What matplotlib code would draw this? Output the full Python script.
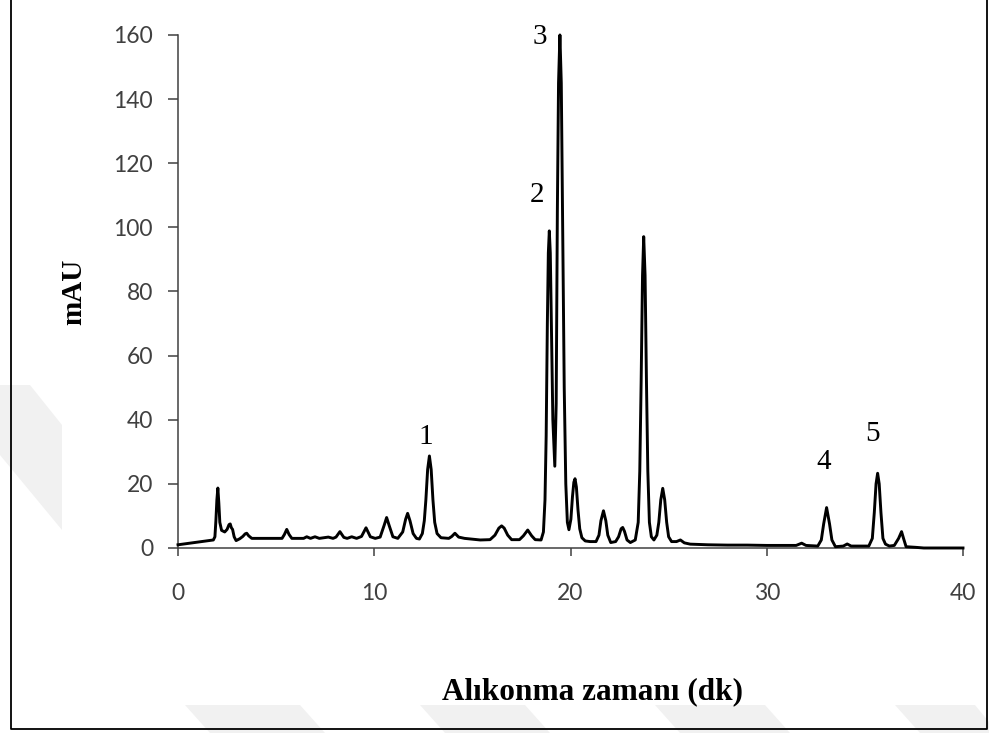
import matplotlib.pyplot as plt
from matplotlib.lines import Line2D
from matplotlib.patches import Polygon

# chromatogram trace (retention time in min, signal in mAU)
time_min = [
    0.00, 1.80, 1.88, 1.93, 1.98, 2.03, 2.08, 2.13, 2.22, 2.38, 2.50, 2.60, 2.66,
    2.72, 2.78, 2.86, 2.96, 3.15, 3.30, 3.42, 3.50, 3.60, 3.76, 5.30, 5.42, 5.54,
    5.66, 5.80, 6.40, 6.56, 6.75, 6.98, 7.20, 7.66, 7.90, 8.05, 8.25, 8.45, 8.62,
    8.85, 9.10, 9.35, 9.58, 9.80, 10.05, 10.30, 10.50, 10.63, 10.76, 10.95, 11.20,
    11.45, 11.60, 11.70, 11.82, 11.98, 12.15, 12.30, 12.45, 12.55, 12.63, 12.72,
    12.81, 12.90, 12.99, 13.08, 13.20, 13.40, 13.80, 13.95, 14.11, 14.30, 14.60,
    15.40, 15.90, 16.15, 16.35, 16.49, 16.62, 16.80, 17.00, 17.40, 17.60, 17.82,
    18.02, 18.20, 18.50, 18.62, 18.70, 18.76, 18.82, 18.87, 18.92, 18.97, 19.02,
    19.10, 19.20, 19.27, 19.33, 19.39, 19.46, 19.53, 19.60, 19.68, 19.76, 19.84,
    19.92, 20.02, 20.10, 20.17, 20.23, 20.30, 20.38, 20.47, 20.58, 20.75, 21.00,
    21.30, 21.45, 21.55, 21.68, 21.80, 21.90, 22.05, 22.30, 22.45, 22.58, 22.66,
    22.75, 22.88, 23.05, 23.30, 23.45, 23.53, 23.60, 23.67, 23.73, 23.80, 23.87,
    23.94, 24.02, 24.12, 24.25, 24.40, 24.50, 24.60, 24.70, 24.80, 24.90, 25.00,
    25.15, 25.40, 25.60, 25.80, 26.10, 27.00, 28.00, 29.00, 30.00, 31.50, 31.78,
    32.00, 32.60, 32.78, 32.90, 33.05, 33.20, 33.32, 33.50, 33.90, 34.10, 34.30,
    35.20, 35.38, 35.48, 35.57, 35.65, 35.73, 35.82, 35.92, 36.05, 36.25, 36.50,
    36.72, 36.87, 36.97, 37.10, 37.60, 38.00, 40.00,
]
signal_mau = [
    1.0, 2.5, 3.5, 8.5, 15.0, 18.7, 14.0, 8.0, 5.5, 5.0, 5.8, 7.3, 7.5,
    6.3, 5.8, 3.5, 2.3, 2.9, 3.6, 4.4, 4.6, 3.8, 3.0, 3.0, 4.2, 5.8,
    4.2, 3.0, 3.0, 3.5, 3.0, 3.5, 3.0, 3.4, 3.0, 3.4, 5.1, 3.3, 3.0,
    3.5, 3.0, 3.6, 6.3, 3.5, 3.0, 3.4, 7.0, 9.5, 7.0, 3.5, 3.0,
    5.0, 9.0, 10.8, 8.5, 4.5, 3.0, 2.8, 4.5, 8.5, 15.0, 24.5,
    28.7, 24.5, 15.0, 8.0, 4.5, 3.2, 3.0, 3.6, 4.6, 3.4, 3.0,
    2.5, 2.6, 4.0, 6.2, 6.9, 6.2, 4.0, 2.6, 2.6, 3.8, 5.6,
    3.8, 2.6, 2.5, 5.0, 15.0, 35.0, 70.0, 92.0, 98.9, 92.0, 72.0,
    40.0, 25.5, 45.0, 105.0, 145.0, 160.0, 145.0, 100.0, 50.0, 20.0, 8.0,
    5.7, 9.0, 16.0, 20.5, 21.6, 19.0, 12.0, 6.0, 3.2, 2.2, 2.0,
    2.0, 4.0, 8.5, 11.6, 8.5, 4.0, 1.7, 2.0, 3.5, 6.0, 6.4,
    5.2, 2.5, 1.7, 2.5, 8.0, 24.0, 52.0, 85.0, 97.1, 85.0, 52.0,
    24.0, 8.0, 3.5, 2.5, 4.0, 8.0, 15.0, 18.6, 15.0, 8.0, 3.5,
    2.0, 2.0, 2.5, 1.6, 1.2, 1.0, 0.9, 0.9, 0.8, 0.8, 1.5,
    0.8, 0.6, 2.5, 7.5, 12.6, 7.5, 2.5, 0.4, 0.6, 1.25, 0.6,
    0.6, 3.0, 11.0, 20.0, 23.3, 20.0, 11.0, 3.0, 1.2, 0.6, 0.8,
    3.0, 5.1, 3.0, 0.4, 0.2, 0.0, 0.0,
]

peak_ids = ['1', '2', '3', '4', '5']
peak_label_x = [12.64, 18.27, 18.45, 32.88, 35.40]
peak_label_y = [34.6, 110.0, 159.4, 26.9, 35.6]

x_ticks = [0, 10, 20, 30, 40]
y_ticks = [0, 20, 40, 60, 80, 100, 120, 140, 160]

axis_grey = '#404040'
W, H = 989, 733


def fig_xy(px, py):
    # pixel position (origin top-left) -> figure fraction
    return (px / W, 1 - py / H)


fig = plt.figure(figsize=(W / 100, H / 100), dpi=100)

# faint watermark stripes showing in the page margins
stripes = [
    [(0, 385), (30, 385), (62, 425), (62, 530), (0, 455)],
    [(185, 705), (300, 705), (325, 733), (210, 733)],
    [(420, 705), (525, 705), (550, 733), (445, 733)],
    [(655, 705), (765, 705), (790, 733), (680, 733)],
    [(895, 705), (975, 705), (989, 722), (989, 733), (920, 733)],
]
for pts in stripes:
    fig.add_artist(Polygon([fig_xy(*p) for p in pts], closed=True,
                           transform=fig.transFigure, facecolor='#f1f1f1',
                           edgecolor='none', zorder=0))

ax = fig.add_axes([0.180, 0.2524, 0.7937, 0.6999])
ax.patch.set_alpha(0)

ax.plot(time_min, signal_mau, color='black', lw=2.1,
        solid_joinstyle='round', clip_on=False, zorder=3)

ax.set_xlim(0, 40)
ax.set_ylim(0, 160)
ax.set_xticks(x_ticks)
ax.set_yticks(y_ticks)

for side in ['top', 'right']:
    ax.spines[side].set_visible(False)
for side in ['left', 'bottom']:
    ax.spines[side].set_color(axis_grey)
    ax.spines[side].set_linewidth(1.1)

ax.tick_params(axis='y', direction='out', length=7, width=1.1, color=axis_grey,
               pad=11, labelsize=16.5, labelcolor=axis_grey)
ax.tick_params(axis='x', direction='out', length=6, width=1.1, color=axis_grey,
               pad=19, labelsize=16.5, labelcolor=axis_grey)
for lab in ax.get_xticklabels() + ax.get_yticklabels():
    lab.set_fontfamily('Lato')

for pid, px, py in zip(peak_ids, peak_label_x, peak_label_y):
    ax.text(px, py, pid, fontfamily='Liberation Serif', fontsize=21,
            ha='center', va='center', clip_on=False)

ax.set_ylabel('mAU', fontfamily='Liberation Serif', fontweight='bold', fontsize=21)
ax.yaxis.set_label_coords(-0.115, 0.5)

fig.text(*fig_xy(593, 692), 'Alıkonma zamanı (dk)',
         fontfamily='Liberation Serif', fontweight='bold', fontsize=22.5,
         ha='center', va='center')

# outer frame of the pasted chart (left, bottom, right)
frame = [fig_xy(11, 0), fig_xy(11, 729), fig_xy(987, 729), fig_xy(987, 0)]
fig.add_artist(Line2D([p[0] for p in frame], [p[1] for p in frame],
                      transform=fig.transFigure, color='black', lw=1.3))

fig.savefig('out.png', dpi=100)
